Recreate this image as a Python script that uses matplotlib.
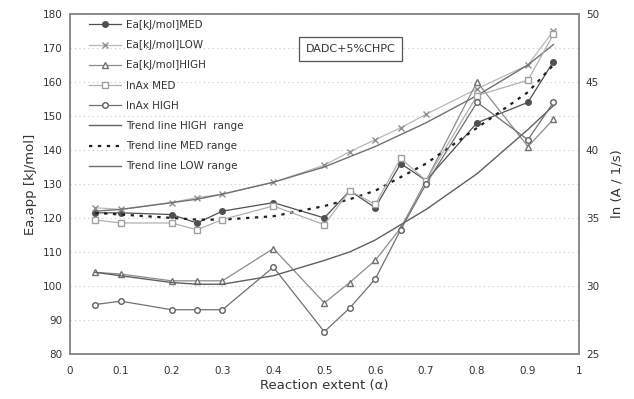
import matplotlib
matplotlib.use('Agg')
import matplotlib.pyplot as plt

x = [0.05, 0.1, 0.2, 0.25, 0.3, 0.4, 0.5, 0.55, 0.6, 0.65, 0.7, 0.8, 0.9, 0.95]

# left axis, Ea [kJ/mol]
ea_med = [121.5, 121.5, 121, 118.5, 122, 124.5, 120, 128, 123, 136, 131, 148, 154, 166]
ea_low = [123, 122.5, 124.5, 126, 127, 130.5, 135.5, 139.5, 143, 146.5, 150.5, 158, 165, 175]
ea_high = [104, 103.5, 101.5, 101.5, 101.5, 111, 95, 101, 107.5, 117, 131, 160, 141, 149]

# right axis, ln A
lnax_med = [34.85, 34.63, 34.63, 34.13, 34.88, 35.88, 34.5, 37.0, 36.0, 39.38, 37.75, 44.0, 45.13, 48.5]
lnax_high = [28.63, 28.88, 28.25, 28.25, 28.25, 31.38, 26.63, 28.38, 30.5, 34.13, 37.5, 43.5, 40.75, 43.5]

# trend lines (left axis)
trend_high = [104, 103, 101, 100.5, 100.5, 103, 107.5, 110, 113.5, 118, 122.5, 133, 146, 153]
trend_med = [121.5, 121, 120, 119.5, 119.5, 120.5, 123.5, 125.5, 128, 132, 136, 146.5, 157, 165]
trend_low = [122, 122.5, 124.5, 125.5, 127, 130.5, 135, 138, 141, 144.5, 148, 156, 165, 171]

plt.rcParams['font.family'] = ['DejaVu Sans']

fig = plt.figure(figsize=(6.34, 3.99), dpi=100)
ax = fig.add_axes((0.110, 0.113, 0.803, 0.852))
ax2 = ax.twinx()

ms = 4
l1, = ax.plot(x, ea_med, color='#505050', lw=0.9, marker='o', ms=ms, mfc='#505050', mec='#505050',
              label='Ea[kJ/mol]MED')
l2, = ax.plot(x, ea_low, color='#b8b8b8', lw=0.9, marker='x', ms=ms + 1, mec='#909090',
              label='Ea[kJ/mol]LOW')
l3, = ax.plot(x, ea_high, color='#8c8c8c', lw=0.9, marker='^', ms=ms, mfc='white', mec='#707070',
              label='Ea[kJ/mol]HIGH')
l4, = ax2.plot(x, lnax_med, color='#b0b0b0', lw=0.9, marker='s', ms=ms, mfc='white', mec='#a0a0a0',
               label='lnAx MED')
l5, = ax2.plot(x, lnax_high, color='#707070', lw=0.9, marker='o', ms=ms, mfc='white', mec='#606060',
               label='lnAx HIGH')
l6, = ax.plot(x, trend_high, color='#606060', lw=1.0, label='Trend line HIGH  range')
l7, = ax.plot(x, trend_med, color='#202020', lw=1.6, ls=(0, (1.5, 2.5)), label='Trend line MED range')
l8, = ax.plot(x, trend_low, color='#707070', lw=1.0, label='Trend line LOW range')

ax.set_xlim(0, 1)
ax.set_ylim(80, 180)
ax2.set_ylim(25, 50)
ax.set_xticks([0, 0.1, 0.2, 0.3, 0.4, 0.5, 0.6, 0.7, 0.8, 0.9, 1])
ax.set_xticklabels(['0', '0.1', '0.2', '0.3', '0.4', '0.5', '0.6', '0.7', '0.8', '0.9', '1'])
ax.set_yticks(range(80, 181, 10))
ax2.set_yticks(range(25, 51, 5))

ax.grid(axis='y', color='#c8c8c8', ls=(0, (1, 3)), lw=0.8)
ax.set_axisbelow(True)

for a in (ax, ax2):
    for s in a.spines.values():
        s.set_color('#8a8a8a')
        s.set_linewidth(1.2)
    a.tick_params(length=0, labelsize=7.5, colors='#333333', pad=5)
ax.tick_params(axis='x', pad=9)

ax.set_xlabel('Reaction extent (α)', fontsize=9.5, color='#333333', labelpad=2)
ax.set_ylabel('Ea,app [kJ/mol]', fontsize=9.5, color='#333333', labelpad=4)
ax2.set_ylabel('ln (A / 1/s)', fontsize=9.5, color='#333333', labelpad=8)

ax.legend(handles=[l1, l2, l3, l4, l5, l6, l7, l8], loc='upper left', bbox_to_anchor=(0.02, 1.01),
          frameon=False, fontsize=7.5, handlelength=3.0, labelspacing=0.98, borderpad=0.4,
          handletextpad=0.5, labelcolor='#333333')

ax.text(0.552, 0.897, 'DADC+5%CHPC', transform=ax.transAxes, fontsize=8, color='#333333',
        ha='center', va='center',
        bbox=dict(boxstyle='square,pad=0.6', fc='white', ec='#555555', lw=0.9))

plt.savefig('out.png', dpi=100)
plt.close()
